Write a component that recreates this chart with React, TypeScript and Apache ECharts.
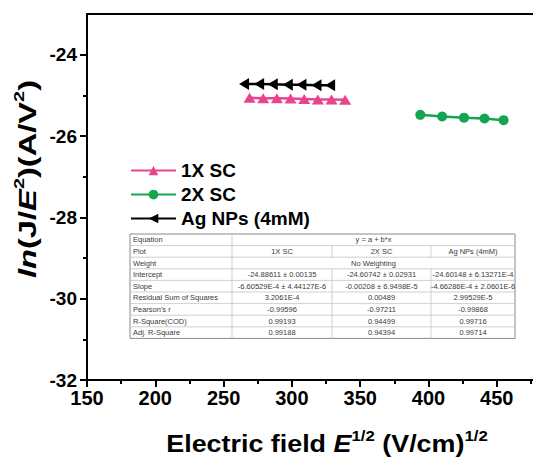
import React, { useEffect, useRef } from "react";
import * as echarts from "echarts";

const FONT = '"Liberation Sans", Arial, Helvetica, sans-serif';

// Series data
const seriesNames = ["1X SC", "2X SC", "Ag NPs (4mM)"];
const pinkX = [269, 279, 289, 299, 309, 319, 329, 339];
const pinkY = [-25.06, -25.07, -25.07, -25.08, -25.09, -25.1, -25.1, -25.11];
const greenX = [394, 410, 426, 441, 455];
const greenY = [-25.48, -25.52, -25.55, -25.57, -25.61];
const blackX = [265, 276, 286, 297, 307, 318, 328];
const blackY = [-24.72, -24.72, -24.73, -24.74, -24.74, -24.75, -24.75];

// Axis ticks
const xMajor = [150, 200, 250, 300, 350, 400, 450];
const xMinor = [175, 225, 275, 325, 375, 425, 475];
const yMajor = [-32, -30, -28, -26, -24];
const yMinor = [-31, -29, -27, -25];

// Fit table text
const tableRowLabels = [
  "Equation",
  "Plot",
  "Weight",
  "Intercept",
  "Slope",
  "Residual Sum of Squares",
  "Pearson's r",
  "R-Square(COD)",
  "Adj. R-Square",
];
const equationText = "y = a + b*x";
const weightText = "No Weighting";
const interceptVals = ["-24.88611 ± 0.00135", "-24.60742 ± 0.02931", "-24.60148 ± 6.13271E-4"];
const slopeVals = ["-6.60529E-4 ± 4.44127E-6", "-0.00208 ± 6.9498E-5", "-4.66286E-4 ± 2.0601E-6"];
const rssVals = ["3.2061E-4", "0.00489", "2.99529E-5"];
const pearsonVals = ["-0.99596", "-0.97211", "-0.99868"];
const rSquareVals = ["0.99193", "0.94499", "0.99716"];
const adjRSquareVals = ["0.99188", "0.94394", "0.99714"];

const PINK = "#e9448f";
const GREEN = "#13a54f";
const BLACK = "#000000";

function buildTable(): any[] {
  const left = 130;
  const top = 234;
  const rowH = 11.6;
  const colX = [130, 232, 332, 431, 515];
  const nRows = tableRowLabels.length;
  const bottom = top + rowH * nRows;
  const els: any[] = [];
  els.push({
    type: "rect",
    z: 50,
    shape: { x: left, y: top, width: colX[4] - left, height: bottom - top },
    style: { fill: "#ffffff", stroke: "#8a8a8a", lineWidth: 1 },
  });
  for (let r = 1; r < nRows; r++) {
    const y = top + rowH * r;
    els.push({
      type: "line",
      z: 51,
      shape: { x1: left, y1: y, x2: colX[4], y2: y },
      style: { stroke: "#c4c4c4", lineWidth: 0.8 },
    });
  }
  els.push({
    type: "line",
    z: 51,
    shape: { x1: colX[1], y1: top, x2: colX[1], y2: bottom },
    style: { stroke: "#c4c4c4", lineWidth: 0.8 },
  });
  for (let r = 0; r < nRows; r++) {
    if (r === 0 || r === 2) continue;
    for (const cx of [colX[2], colX[3]]) {
      els.push({
        type: "line",
        z: 51,
        shape: { x1: cx, y1: top + rowH * r, x2: cx, y2: top + rowH * (r + 1) },
        style: { stroke: "#c4c4c4", lineWidth: 0.8 },
      });
    }
  }
  const txt = (s: string, x: number, y: number, align: string) => ({
    type: "text",
    z: 52,
    x,
    y,
    style: {
      text: s,
      fill: "#3a3a3a",
      fontSize: 7.5,
      fontFamily: FONT,
      textAlign: align,
      textVerticalAlign: "middle",
    },
  });
  const rowVals: (string[] | string)[] = [
    equationText,
    seriesNames,
    weightText,
    interceptVals,
    slopeVals,
    rssVals,
    pearsonVals,
    rSquareVals,
    adjRSquareVals,
  ];
  tableRowLabels.forEach((lab, r) => {
    const cy = top + rowH * (r + 0.5);
    els.push(txt(lab, left + 3, cy, "left"));
    const v = rowVals[r];
    if (typeof v === "string") {
      els.push(txt(v, (colX[1] + colX[4]) / 2, cy, "center"));
    } else {
      v.forEach((s, c) => {
        els.push(txt(s, (colX[c + 1] + colX[c + 2]) / 2, cy, "center"));
      });
    }
  });
  return els;
}

export default function App() {
  const ref = useRef<HTMLDivElement>(null);

  useEffect(() => {
    const chart = echarts.init(ref.current!, null, { renderer: "svg" });
    const axisLineStyle = { color: "#000", width: 2 };
    const mk = (xs: number[], ys: number[]) => xs.map((x, i) => [x, ys[i]]);

    const titleRich = (fs: number, sup: number) => ({
      n: { fontSize: fs, fontWeight: "bold", fontFamily: FONT, fill: "#000", lineHeight: fs + 4, verticalAlign: "bottom" },
      it: { fontSize: fs, fontWeight: "bold", fontStyle: "italic", fontFamily: FONT, fill: "#000", lineHeight: fs + 4, verticalAlign: "bottom" },
      sup: { fontSize: sup, fontWeight: "bold", fontFamily: FONT, fill: "#000", lineHeight: fs, verticalAlign: "top" },
    });

    const xBase = {
      type: "value",
      min: 150,
      max: 476.5,
      splitLine: { show: false },
      minorSplitLine: { show: false },
    };
    const yBase = {
      type: "value",
      min: -32,
      max: -23,
      interval: 1,
      splitLine: { show: false },
    };

    const option: any = {
      animation: false,
      backgroundColor: "#ffffff",
      grid: { left: 87, top: 14, right: 0, height: 366, containLabel: false },
      legend: {
        orient: "vertical",
        left: 130,
        top: 161,
        padding: 0,
        itemWidth: 45,
        itemHeight: 12,
        itemGap: 5,
        textStyle: { fontSize: 19, fontWeight: "bold", color: "#000", fontFamily: FONT },
        data: seriesNames,
      },
      xAxis: [
        {
          ...xBase,
          position: "bottom",
          axisLine: { show: true, onZero: false, lineStyle: axisLineStyle },
          axisTick: { show: true, inside: false, length: 7, customValues: xMajor, lineStyle: { color: "#000", width: 2 } },
          axisLabel: {
            customValues: xMajor,
            fontSize: 20,
            fontWeight: "bold",
            color: "#000",
            fontFamily: FONT,
            margin: 8,
          },
        },
        {
          ...xBase,
          position: "bottom",
          axisLine: { show: false },
          axisTick: { show: true, inside: false, length: 4, customValues: xMinor, lineStyle: { color: "#000", width: 2 } },
          axisLabel: { show: false },
        },
        {
          ...xBase,
          position: "top",
          axisLine: { show: true, onZero: false, lineStyle: axisLineStyle },
          axisTick: { show: false },
          axisLabel: { show: false },
        },
      ],
      yAxis: [
        {
          ...yBase,
          position: "left",
          axisLine: { show: true, onZero: false, lineStyle: axisLineStyle },
          axisTick: { show: true, inside: false, length: 7, customValues: yMajor, lineStyle: { color: "#000", width: 2 } },
          axisLabel: {
            customValues: yMajor,
            fontSize: 19,
            fontWeight: "bold",
            color: "#000",
            fontFamily: FONT,
            margin: 10,
          },
        },
        {
          ...yBase,
          position: "left",
          axisLine: { show: false },
          axisTick: { show: true, inside: false, length: 4, customValues: yMinor, lineStyle: { color: "#000", width: 2 } },
          axisLabel: { show: false },
        },
      ],
      series: [
        {
          name: seriesNames[0],
          type: "line",
          data: mk(pinkX, pinkY),
          symbol: "triangle",
          symbolSize: [12, 10],
          itemStyle: { color: PINK },
          lineStyle: { color: PINK, width: 2.5 },
          z: 3,
        },
        {
          name: seriesNames[1],
          type: "line",
          data: mk(greenX, greenY),
          symbol: "circle",
          symbolSize: 10,
          itemStyle: { color: GREEN },
          lineStyle: { color: GREEN, width: 2.5 },
          z: 3,
        },
        {
          name: seriesNames[2],
          type: "line",
          data: mk(blackX, blackY),
          symbol: "triangle",
          symbolRotate: 90,
          symbolSize: [12, 10],
          itemStyle: { color: BLACK },
          lineStyle: { color: BLACK, width: 2.5 },
          z: 3,
        },
      ],
      graphic: [
        ...buildTable(),
        {
          type: "text",
          x: 327,
          y: 442,
          z: 60,
          scaleX: 1.12,
          style: {
            text: "{n|Electric field }{it|E}{sup|1/2}{n| (V/cm)}{sup|1/2}",
            rich: titleRich(24, 15),
            textAlign: "center",
            textVerticalAlign: "middle",
          },
        },
        {
          type: "text",
          x: 26,
          y: 179,
          z: 60,
          rotation: Math.PI / 2,
          scaleX: 1.42,
          style: {
            text: "{it|ln}{n|(J/}{it|E}{sup|2}{n|)(A/V}{sup|2}{n|)}",
            rich: titleRich(23, 14),
            textAlign: "center",
            textVerticalAlign: "middle",
          },
        },
      ],
    };
    chart.setOption(option);
    return () => chart.dispose();
  }, []);

  return (
    <div
      ref={ref}
      style={{ position: "fixed", left: 0, top: 0, width: 533, height: 457, background: "#fff" }}
    />
  );
}
